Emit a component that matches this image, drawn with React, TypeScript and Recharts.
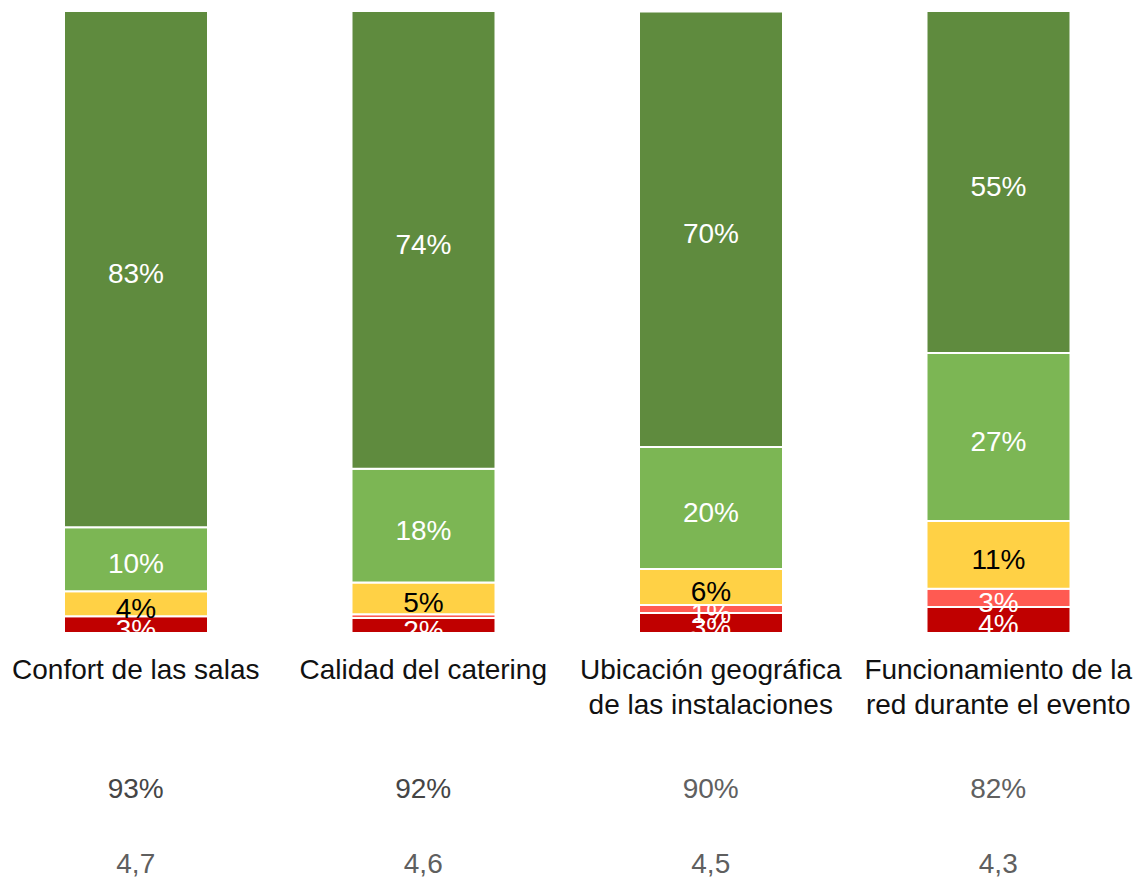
import { BarChart, Bar, XAxis, YAxis, LabelList } from "recharts";

// Survey categories (shown under each bar, "\n" marks the line break)
const categories = [
  "Confort de las salas",
  "Calidad del catering",
  "Ubicación geográfica\nde las instalaciones",
  "Funcionamiento de la\nred durante el evento",
];

// Share of answers per rating level, bottom to top
const muyMal = [2.7, 2.4, 3.2, 4.2];
const mal = [0, 0.6, 1.3, 2.9];
const regular = [4, 5.1, 5.8, 10.9];
const bien = [10.3, 18.3, 19.6, 27];
const muyBien = [83, 73.6, 70, 55];

// Summary rows under the chart
const satisfaction = ["93%", "92%", "90%", "82%"];
const scores = ["4,7", "4,6", "4,5", "4,3"];

const COLORS = {
  muyMal: "#c00000",
  mal: "#ff5a52",
  regular: "#ffd145",
  bien: "#7cb654",
  muyBien: "#5f8b3e",
};

const FONT = "'Liberation Sans', Arial, sans-serif";
const CHART_W = 1150;
const CHART_H = 880;
const TOP = 11;
const PLOT_H = 622;
const PLOT_BOTTOM = TOP + PLOT_H;

const data = categories.map((name, i) => ({
  name,
  muyMal: muyMal[i],
  mal: mal[i],
  regular: regular[i],
  bien: bien[i],
  muyBien: muyBien[i],
  satisfaction: satisfaction[i],
  score: scores[i],
}));

const makeLabel = (key: string, color: string) => (props: any) => {
  const { x, y, width, height, value, index } = props;
  if (value == null || value < 1) return null;
  const cx = x + width / 2;
  const cy = y + height / 2;
  const id = `clip-${key}-${index}`;
  return (
    <g>
      <defs>
        <clipPath id={id}>
          <rect x={x - 60} y={TOP} width={width + 120} height={PLOT_H} />
        </clipPath>
      </defs>
      <text
        x={cx}
        y={cy + 14}
        textAnchor="middle"
        fill={color}
        fontFamily={FONT}
        fontSize={28}
        clipPath={`url(#${id})`}
      >
        {`${Math.round(value)}%`}
      </text>
    </g>
  );
};

const CategoryTick = (props: any) => {
  const { x, y, payload, index } = props;
  const lines = String(payload.value).split("\n");
  const row = data[index];
  return (
    <g fontFamily={FONT} fontSize={28} textAnchor="middle">
      {lines.map((line, i) => (
        <text key={i} x={x} y={y + 46 + i * 35} fill="#111">
          {line}
        </text>
      ))}
      <text x={x} y={y + 165} fill={index < 2 ? "#454545" : "#606060"}>
        {row?.satisfaction}
      </text>
      <text x={x} y={y + 240} fill="#5f5f5f">
        {row?.score}
      </text>
    </g>
  );
};

const series: { key: keyof typeof COLORS; text: string }[] = [
  { key: "muyMal", text: "#fff" },
  { key: "mal", text: "#fff" },
  { key: "regular", text: "#000" },
  { key: "bien", text: "#fff" },
  { key: "muyBien", text: "#fff" },
];

export default function App() {
  return (
    <div
      style={{
        position: "absolute",
        left: 0,
        top: 0,
        width: 1137,
        height: 880,
        overflow: "hidden",
        background: "#fff",
      }}
    >
      <div style={{ position: "absolute", left: -8, top: 0 }}>
        <BarChart
          width={CHART_W}
          height={CHART_H}
          data={data}
          margin={{ top: TOP, right: 0, bottom: 0, left: 0 }}
          barSize={144}
        >
          <XAxis
            dataKey="name"
            axisLine={false}
            tickLine={false}
            tickSize={0}
            tickMargin={0}
            height={CHART_H - PLOT_BOTTOM}
            interval={0}
            tick={<CategoryTick />}
          />
          <YAxis hide domain={[0, 100]} allowDataOverflow />
          {series.map((s) => (
            <Bar
              key={s.key}
              dataKey={s.key}
              stackId="a"
              fill={COLORS[s.key]}
              stroke="#fff"
              strokeWidth={2}
              isAnimationActive={false}
            >
              <LabelList dataKey={s.key} content={makeLabel(s.key, s.text)} />
            </Bar>
          ))}
        </BarChart>
      </div>
    </div>
  );
}
